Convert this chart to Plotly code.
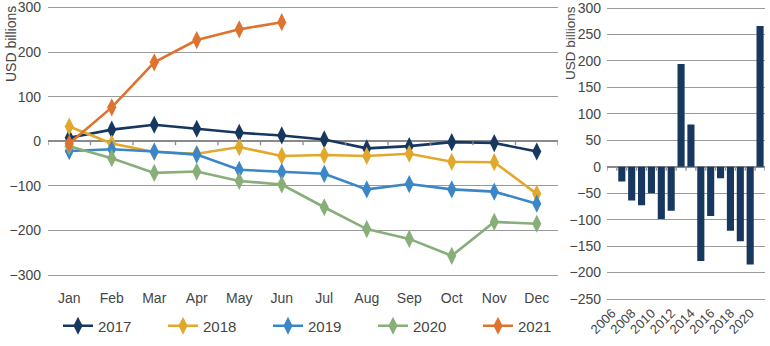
import plotly.graph_objects as go

months = ["Jan", "Feb", "Mar", "Apr", "May", "Jun", "Jul", "Aug", "Sep", "Oct", "Nov", "Dec"]
s2017 = [8, 26, 37, 28, 19, 13, 4, -16, -11, -2, -4, -23]
s2018 = [33, -5, -24, -28, -13, -33, -31, -33, -28, -46, -47, -118]
s2019 = [-22, -18, -23, -30, -64, -69, -73, -108, -96, -108, -113, -140]
s2020 = [-11, -38, -71, -68, -89, -97, -148, -197, -219, -257, -181, -185]
s2021 = [-5, 76, 177, 227, 251, 267]

years = list(range(2006, 2022))
annual = [None, -28, -64, -73, -50, -99, -83, 194, 80, -178, -93, -22, -121, -141, -185, 266]
year_ticks = [2006, 2008, 2010, 2012, 2014, 2016, 2018, 2020]

series = [
    ("2017", s2017, "#16375F"),
    ("2018", s2018, "#E2A82C"),
    ("2019", s2019, "#3A86C6"),
    ("2020", s2020, "#88AE79"),
    ("2021", s2021, "#DE7330"),
]

W, H = 770, 346
FONT = "Liberation Sans, Arial, sans-serif"
TXT = "#454545"
GRID = "#9a9a9a"

fig = go.Figure()
for name, vals, col in series:
    fig.add_trace(go.Scatter(
        x=months[:len(vals)], y=vals, name=name, mode="lines+markers",
        line=dict(color=col, width=2.6),
        marker=dict(symbol="diamond-tall", size=13, color=col),
        xaxis="x", yaxis="y",
    ))

fig.add_trace(go.Bar(
    x=years, y=annual, marker=dict(color="#17375E", line=dict(width=0)),
    showlegend=False, xaxis="x2", yaxis="y2",
))

# tick marks on zero lines at category boundaries
shapes = []
for i in range(len(months) + 1):
    shapes.append(dict(type="line", xref="x", yref="y", ysizemode="pixel", yanchor=0,
                       x0=i - 0.5, x1=i - 0.5, y0=0, y1=-4,
                       line=dict(color="#8a8a8a", width=1.3)))
for i in range(len(years) + 1):
    xb = years[0] - 0.5 + i
    shapes.append(dict(type="line", xref="x2", yref="y2", ysizemode="pixel", yanchor=0,
                       x0=xb, x1=xb, y0=0, y1=-4,
                       line=dict(color="#8a8a8a", width=1.3)))

fig.update_layout(
    width=W, height=H,
    margin=dict(l=0, r=0, t=0, b=0),
    paper_bgcolor="white", plot_bgcolor="white",
    font=dict(family=FONT, size=14, color=TXT),
    bargap=0.28,
    shapes=shapes,
    xaxis=dict(domain=[48 / W, 558 / W], anchor="y", type="category",
               categoryorder="array", categoryarray=months,
               range=[-0.5, 11.5], showgrid=False, showline=False, ticks="",
               ticklabelstandoff=10, tickfont=dict(size=14, color=TXT), automargin=False),
    yaxis=dict(domain=[1 - 277.67 / H, 1 - 4.83 / H], anchor="x", range=[-306, 306],
               tickvals=[-300, -200, -100, 0, 100, 200, 300],
               showgrid=True, gridcolor=GRID, gridwidth=1.3,
               zeroline=True, zerolinecolor="#8a8a8a", zerolinewidth=1.6,
               showline=False, ticks="", ticklabelstandoff=6, ticklabeloverflow="allow",
               tickfont=dict(size=14, color=TXT), automargin=False),
    xaxis2=dict(domain=[607 / W, 765 / W], anchor="y2", range=[2005.5, 2021.5],
                tickvals=year_ticks, ticktext=[str(y) for y in year_ticks],
                tickangle=-45, showgrid=False, showline=False, ticks="",
                tickfont=dict(size=13, color=TXT), automargin=False),
    yaxis2=dict(domain=[1 - 302.17 / H, 1 - 4.83 / H], anchor="x2", range=[-256, 306],
                tickvals=list(range(-250, 301, 50)),
                showgrid=True, gridcolor=GRID, gridwidth=1.3,
                zeroline=True, zerolinecolor="#8a8a8a", zerolinewidth=1.6,
                showline=False, ticks="", ticklabelstandoff=5, ticklabeloverflow="allow",
                tickfont=dict(size=14, color=TXT), automargin=False),
    legend=dict(orientation="h", x=58 / W, xanchor="left", y=1 - 326 / H, yanchor="middle",
                entrywidth=60, entrywidthmode="pixels",
                font=dict(size=15, color=TXT), bgcolor="rgba(0,0,0,0)",
                itemwidth=30, tracegroupgap=0),
    annotations=[
        dict(text="USD billions", xref="paper", yref="paper", x=11 / W, y=1 - 4 / H,
             xanchor="center", yanchor="top", textangle=-90, showarrow=False,
             font=dict(size=14, color=TXT)),
        dict(text="USD billions", xref="paper", yref="paper", x=570 / W, y=1 - 4 / H,
             xanchor="center", yanchor="top", textangle=-90, showarrow=False,
             font=dict(size=13.5, color=TXT)),
    ],
)

fig.write_html("out.html")
